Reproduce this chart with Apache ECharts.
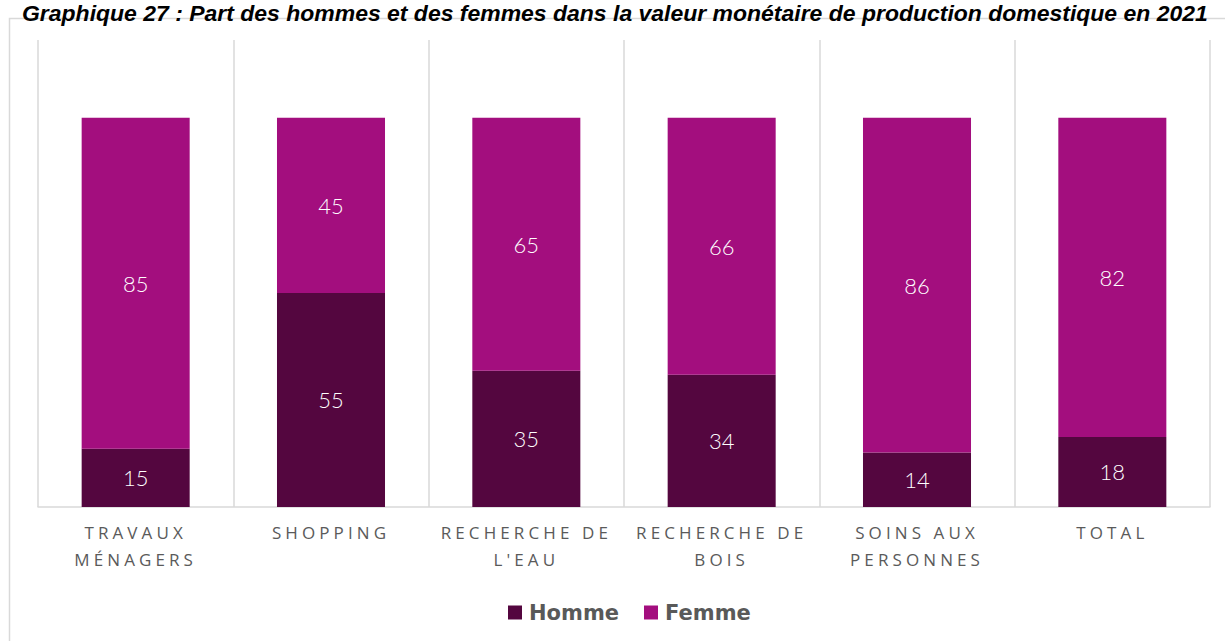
<!DOCTYPE html>
<html>
<head>
<meta charset="utf-8">
<script src="https://cdn.jsdelivr.net/npm/echarts@6/dist/echarts.min.js"></script>
<style>
  html, body { margin: 0; padding: 0; background: #ffffff; }
  #chart { width: 1225px; height: 641px; }
  svg text[fill="#5a5a5a"] { letter-spacing: 4.1px; }
</style>
</head>
<body>
<div id="chart"></div>
<script>
const titleText = "Graphique 27 : Part des hommes et des femmes dans la valeur monétaire de production domestique en 2021";
const categories = ["TRAVAUX\nMÉNAGERS", "SHOPPING", "RECHERCHE DE\nL'EAU", "RECHERCHE DE\nBOIS", "SOINS AUX\nPERSONNES", "TOTAL"];
const seriesNames = ["Homme", "Femme"];
const homme = [15, 55, 35, 34, 14, 18];
const femme = [85, 45, 65, 66, 86, 82];

// fit title width
const cv = document.createElement('canvas').getContext('2d');
cv.font = 'italic bold 18px "Liberation Sans"';
const titleSize = 18 * 1186 / cv.measureText(titleText).width;

const chart = echarts.init(document.getElementById('chart'), null, { renderer: 'svg' });
chart.setOption({
  animation: false,
  backgroundColor: '#ffffff',
  graphic: [
    {
      type: 'rect',
      shape: { x: 9.5, y: 18.5, width: 1240, height: 700 },
      style: { fill: 'none', stroke: '#d9d9d9', lineWidth: 1.5 },
      silent: true, z: -10
    },
    {
      type: 'text',
      x: 22, y: 24,
      style: {
        text: titleText,
        font: 'italic bold ' + titleSize.toFixed(2) + 'px "Liberation Sans"',
        fill: '#000000',
        textVerticalAlign: 'bottom'
      },
      z: 10
    }
  ],
  legend: {
    data: seriesNames,
    bottom: 13,
    left: 503,
    itemWidth: 14,
    itemHeight: 14,
    itemGap: 25,
    icon: 'rect',
    textStyle: { color: '#595959', fontSize: 21, fontWeight: 'bold', fontFamily: 'DejaVu Sans', padding: [0, 0, 0, 2] }
  },
  grid: { left: 38, right: 15, top: 40, bottom: 134, containLabel: false },
  xAxis: {
    type: 'category',
    data: categories,
    axisLine: { show: true, lineStyle: { color: '#d9d9d9', width: 1.5 } },
    axisTick: { show: false },
    splitLine: { show: true, interval: 0, lineStyle: { color: '#d9d9d9', width: 1.5 } },
    axisLabel: {
      interval: 0,
      margin: 12,
      color: '#5a5a5a',
      fontSize: 17,
      lineHeight: 27,
      fontFamily: 'Open Sans'
    }
  },
  yAxis: {
    type: 'value',
    min: 0, max: 120,
    show: false,
    splitLine: { show: false }
  },
  series: [
    {
      name: seriesNames[0],
      type: 'bar',
      stack: 'total',
      data: homme,
      barWidth: '55.3%',
      itemStyle: { color: '#54063f' },
      label: { show: true, position: 'inside', color: '#ffffff', fontSize: 22, fontWeight: 300, fontFamily: 'Lato' }
    },
    {
      name: seriesNames[1],
      type: 'bar',
      stack: 'total',
      data: femme,
      barWidth: '55.3%',
      itemStyle: { color: '#a30e7e' },
      label: { show: true, position: 'inside', color: '#ffffff', fontSize: 22, fontWeight: 300, fontFamily: 'Lato' }
    }
  ]
});
</script>
</body>
</html>
